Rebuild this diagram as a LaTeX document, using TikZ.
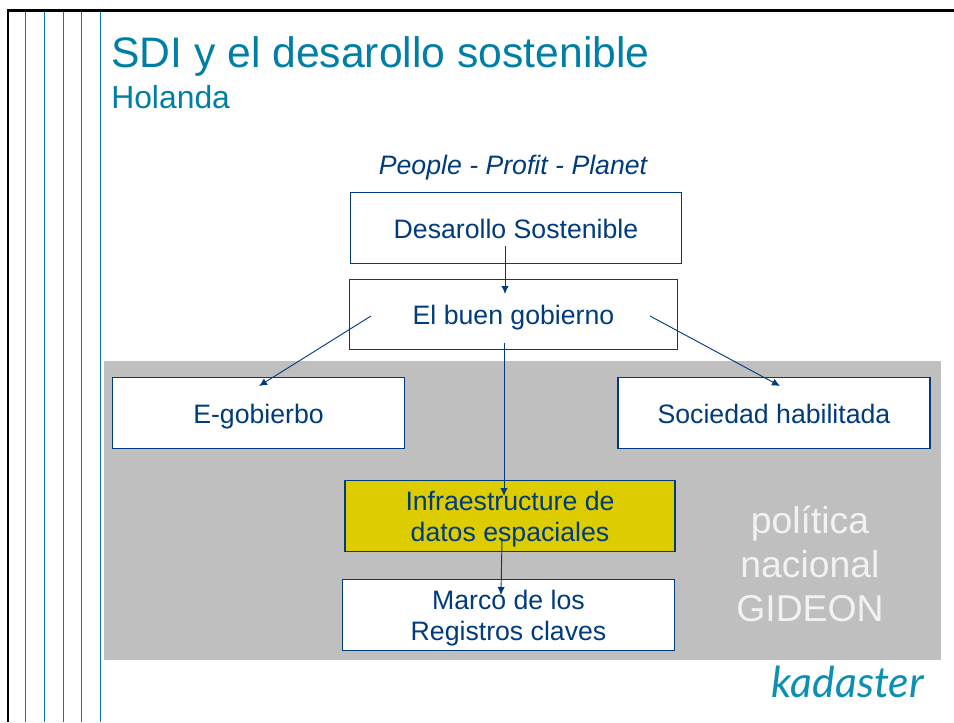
\documentclass[tikz,border=0pt]{standalone}
\usepackage{fontspec}
\setmainfont{Liberation Sans}
\newfontfamily\logofont{Lato}
\usepackage{tikz}
\usetikzlibrary{arrows.meta}

\definecolor{tealline}{HTML}{007FA6}
\definecolor{navytext}{HTML}{003B7E}
\definecolor{greyband}{HTML}{BFBFBF}
\definecolor{yellowbox}{HTML}{DCCC00}
\definecolor{logoblue}{HTML}{0C8FB4}

\tikzset{
    box/.style={draw=navytext, fill=white, text=navytext, line width=0.8pt, inner sep=0pt,
        minimum height=53pt, align=center, font=\fontsize{20}{23.25}\selectfont,
        text height=18pt, text depth=3pt},
    twolines/.style={text height=40pt, text depth=2.5pt},
    link/.style={draw=navytext, line width=0.7pt, -{Latex[length=6pt, width=5.5pt]}}
}

\begin{document}
\begin{tikzpicture}[x=0.75pt, y=-0.75pt]
    \useasboundingbox (0, 0) rectangle (954, 722);

    % Page frame
    \foreach \x in {25.5, 44.5, 63.5, 81.5, 100.5} {
        \draw[tealline, line width=0.8pt] (\x, 10) -- (\x, 722);
    }
    \draw[black, line width=2pt] (8, 722) -- (8, 10.5) -- (954, 10.5);

    % Heading
    \node[anchor=base west, inner sep=0pt, text=tealline, font=\fontsize{32}{38}\selectfont]
        (title) at (111, 67) {SDI y el desarollo sostenible};
    \node[anchor=base west, inner sep=0pt, text=tealline, font=\fontsize{23.9}{28}\selectfont]
        (subtitle) at (111, 108) {Holanda};
    \node[anchor=base, inner sep=0pt, text=navytext, font=\fontsize{20}{23}\selectfont\itshape]
        (motto) at (513, 174) {People - Profit - Planet};

    % Grey band
    \fill[greyband] (104, 361) rectangle (941, 660);
    \node[inner sep=0pt, align=center, text=white!95!black, font=\fontsize{28}{33}\selectfont]
        (gideon) at (810, 564) {política\\nacional\\GIDEON};

    % Boxes
    \node[box, minimum width=248.5pt] (sostenible) at (516, 228) {Desarollo Sostenible};
    \node[box, minimum width=246.5pt] (gobierno) at (513.5, 314.5) {El buen gobierno};
    \node[box, minimum width=219.5pt] (egobierbo) at (258.5, 413) {E-gobierbo};
    \node[box, minimum width=234pt] (sociedad) at (774, 413) {Sociedad habilitada};
    \node[box, twolines, fill=yellowbox, minimum width=247.5pt] (datos) at (510, 516) {Infraestructure de\\datos espaciales};
    \node[box, twolines, minimum width=249pt] (marco) at (508.5, 615) {Marco de los\\Registros claves};

    % Arrow ends inside the boxes
    \coordinate (a1) at (505, 246);
    \coordinate (a2) at (505, 294);
    \coordinate (b1) at (371, 316);
    \coordinate (b2) at (259, 386);
    \coordinate (c1) at (650, 316);
    \coordinate (c2) at (780, 386);
    \coordinate (d1) at (504, 343);
    \coordinate (d2) at (504, 496);
    \coordinate (e1) at (502, 538);
    \coordinate (e2) at (501, 595);

    \draw[link] (a1) -- (a2);
    \draw[link] (b1) -- (b2);
    \draw[link] (c1) -- (c2);
    \draw[link] (d1) -- (d2);
    \draw[link] (e1) -- (e2);

    % Logo
    \node[anchor=base east, inner sep=0pt, text=logoblue, font=\logofont\fontsize{32}{36}\selectfont\itshape]
        (logo) at (924, 697) {kadaster};
\end{tikzpicture}
\end{document}
